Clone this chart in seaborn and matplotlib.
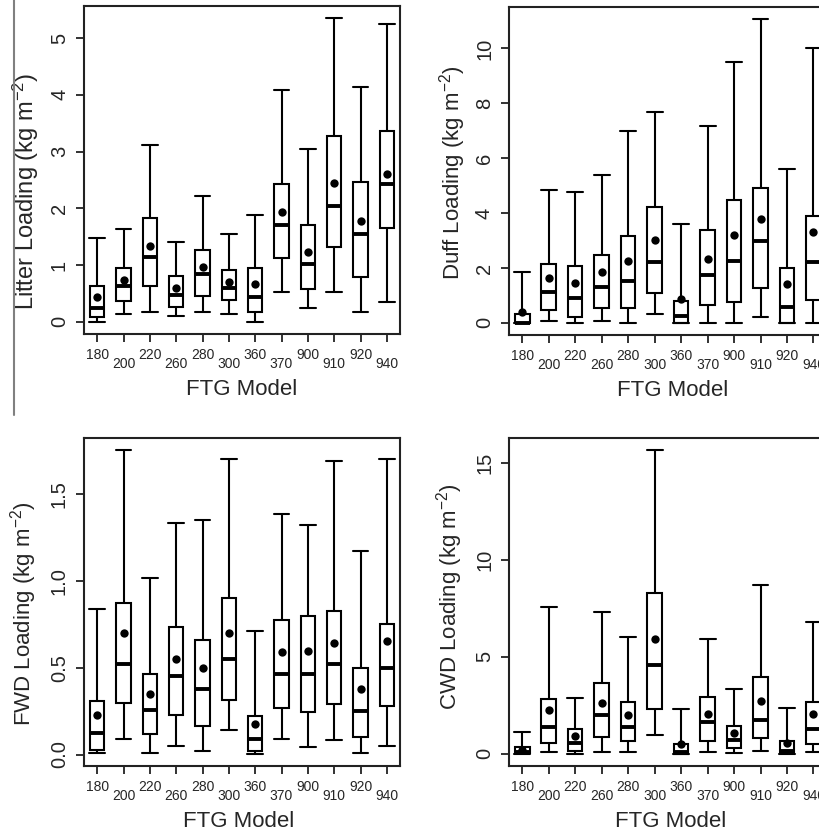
import numpy as np
import pandas as pd
import seaborn as sns
import matplotlib
matplotlib.use("Agg")
import matplotlib.pyplot as plt
from matplotlib.lines import Line2D

# ---------------- data ----------------
models = ["180", "200", "220", "260", "280", "300", "360", "370", "900", "910", "920", "940"]

litter_lo = [0.00, 0.14, 0.18, 0.11, 0.18, 0.14, 0.00, 0.52, 0.25, 0.52, 0.18, 0.35]
litter_q1 = [0.08, 0.36, 0.63, 0.27, 0.45, 0.39, 0.18, 1.12, 0.58, 1.32, 0.79, 1.66]
litter_med = [0.24, 0.63, 1.15, 0.47, 0.85, 0.60, 0.44, 1.70, 1.02, 2.04, 1.54, 2.43]
litter_q3 = [0.63, 0.95, 1.83, 0.80, 1.27, 0.92, 0.95, 2.42, 1.70, 3.27, 2.46, 3.37]
litter_hi = [1.47, 1.64, 3.12, 1.41, 2.22, 1.54, 1.89, 4.08, 3.04, 5.35, 4.13, 5.25]
litter_mean = [0.44, 0.74, 1.33, 0.60, 0.96, 0.71, 0.66, 1.94, 1.23, 2.44, 1.78, 2.61]

duff_lo = [0.00, 0.06, 0.00, 0.06, 0.00, 0.34, 0.00, 0.00, 0.00, 0.22, 0.00, 0.00]
duff_q1 = [0.00, 0.46, 0.22, 0.55, 0.53, 1.08, 0.00, 0.65, 0.75, 1.26, 0.00, 0.82]
duff_med = [0.00, 1.14, 0.92, 1.32, 1.53, 2.21, 0.24, 1.75, 2.24, 2.97, 0.56, 2.20]
duff_q3 = [0.32, 2.15, 2.09, 2.46, 3.15, 4.23, 0.81, 3.40, 4.49, 4.93, 1.99, 3.88]
duff_hi = [1.86, 4.83, 4.78, 5.39, 6.98, 7.70, 3.61, 7.19, 9.51, 11.08, 5.60, 10.00]
duff_mean = [0.38, 1.65, 1.47, 1.87, 2.26, 3.03, 0.87, 2.33, 3.19, 3.80, 1.42, 3.31]

fwd_lo = [0.008, 0.090, 0.010, 0.052, 0.019, 0.139, 0.004, 0.090, 0.042, 0.085, 0.008, 0.052]
fwd_q1 = [0.027, 0.297, 0.116, 0.230, 0.166, 0.316, 0.023, 0.268, 0.243, 0.293, 0.100, 0.281]
fwd_med = [0.125, 0.520, 0.258, 0.450, 0.375, 0.547, 0.090, 0.466, 0.466, 0.520, 0.248, 0.500]
fwd_q3 = [0.310, 0.874, 0.466, 0.734, 0.657, 0.903, 0.221, 0.774, 0.797, 0.826, 0.499, 0.751]
fwd_hi = [0.840, 1.750, 1.015, 1.333, 1.348, 1.700, 0.710, 1.387, 1.320, 1.690, 1.170, 1.700]
fwd_mean = [0.23, 0.70, 0.35, 0.547, 0.499, 0.697, 0.177, 0.591, 0.597, 0.64, 0.379, 0.653]

cwd_lo = [0.00, 0.09, 0.00, 0.12, 0.09, 0.98, 0.00, 0.09, 0.03, 0.17, 0.00, 0.09]
cwd_q1 = [0.03, 0.55, 0.17, 0.89, 0.67, 2.32, 0.00, 0.67, 0.29, 0.81, 0.03, 0.50]
cwd_med = [0.12, 1.38, 0.58, 2.01, 1.41, 4.56, 0.09, 1.62, 0.72, 1.72, 0.17, 1.29]
cwd_q3 = [0.34, 2.84, 1.27, 3.65, 2.65, 8.27, 0.50, 2.92, 1.45, 3.96, 0.67, 2.67]
cwd_hi = [1.15, 7.57, 2.87, 7.31, 6.00, 15.64, 2.32, 5.93, 3.35, 8.69, 2.36, 6.78]
cwd_mean = [0.20, 2.24, 0.93, 2.61, 2.00, 5.92, 0.50, 2.06, 1.10, 2.75, 0.55, 2.05]

ylabels = [r"Litter Loading (kg m$^{-2}$)", r"Duff Loading (kg m$^{-2}$)",
           r"FWD Loading (kg m$^{-2}$)", r"CWD Loading (kg m$^{-2}$)"]
yticks_list = [[0, 1, 2, 3, 4, 5], [0, 2, 4, 6, 8, 10], [0.0, 0.5, 1.0, 1.5], [0, 5, 10, 15]]
ytick_labels = [["0", "1", "2", "3", "4", "5"], ["0", "2", "4", "6", "8", "10"],
                ["0.0", "0.5", "1.0", "1.5"], ["0", "5", "10", "15"]]
xlabel = "FTG Model"

panels = [
    (litter_lo, litter_q1, litter_med, litter_q3, litter_hi, litter_mean),
    (duff_lo, duff_q1, duff_med, duff_q3, duff_hi, duff_mean),
    (fwd_lo, fwd_q1, fwd_med, fwd_q3, fwd_hi, fwd_mean),
    (cwd_lo, cwd_q1, cwd_med, cwd_q3, cwd_hi, cwd_mean),
]

# ---------------- style ----------------
sns.set_style("ticks")
plt.rcParams["font.family"] = ["Liberation Sans", "DejaVu Sans"]
plt.rcParams["mathtext.default"] = "regular"

W, H = 819, 835
fig = plt.figure(figsize=(W / 100, H / 100), dpi=100)

# axes rectangles in pixels: left, top, right, bottom
rects = [(84, 6, 400, 334), (509, 6.7, 826.7, 335),
         (84, 438.3, 400, 766), (509, 438.3, 826.7, 766)]
ylab_pos = [(-0.137, 0.433), (-0.13, 0.495), (-0.143, 0.464), (-0.138, 0.516)]
xlab_x = [0.5, 0.515, 0.49, 0.51]
ylab_size = [17, 16, 16, 16]

for i, (rect, data) in enumerate(zip(rects, panels)):
    l, t, r, b = rect
    ax = fig.add_axes([l / W, 1 - b / H, (r - l) / W, (b - t) / H])
    lo, q1, med, q3, hi, mean = data
    rows = []
    for m, a, bq, c, d, e in zip(models, lo, q1, med, q3, hi):
        for v in (a, bq, c, d, e):
            rows.append({"model": m, "value": v})
    df = pd.DataFrame(rows)
    sns.boxplot(data=df, x="model", y="value", order=models, whis=np.inf,
                width=0.55, color="white", linecolor="black", linewidth=1.5,
                showfliers=False, ax=ax,
                medianprops={"linewidth": 2.8, "color": "black"},
                capwidths=0.6)
    sns.stripplot(x=models, y=mean, order=models, jitter=False, color="black",
                  size=6, ax=ax, zorder=10, linewidth=0)
    ymin = min(min(lo), min(mean))
    ymax = max(max(hi), max(mean))
    pad = 0.04 * (ymax - ymin)
    ax.set_ylim(ymin - pad, ymax + pad)
    ax.set_xlim(-0.5, len(models) - 0.5)

    for s in ax.spines.values():
        s.set_visible(True)
        s.set_linewidth(1.5)
        s.set_color("#222222")

    ax.set_yticks(yticks_list[i])
    ax.set_yticklabels(ytick_labels[i], rotation=90, va="center", fontsize=14.5)
    ax.set_xticks(range(len(models)))
    ax.set_xticklabels(models, fontsize=10)
    ax.tick_params(axis="y", length=5.8, width=1.3, pad=5.0, color="#222222")
    ax.tick_params(axis="x", length=5.8, width=1.3, pad=4, color="#222222")
    for j, tk in enumerate(ax.xaxis.get_major_ticks()):
        if j % 2 == 1:
            tk.set_pad(10.6)

    ax.set_xlabel(xlabel, fontsize=16)
    ax.xaxis.set_label_coords(xlab_x[i], -0.137)
    ax.set_ylabel(ylabels[i], fontsize=ylab_size[i])
    ax.yaxis.set_label_coords(*ylab_pos[i])

fig.add_artist(Line2D([14 / W, 14 / W], [1, 1 - 415 / H], color="#808080", lw=1.5))

fig.savefig("out.png", dpi=100)
